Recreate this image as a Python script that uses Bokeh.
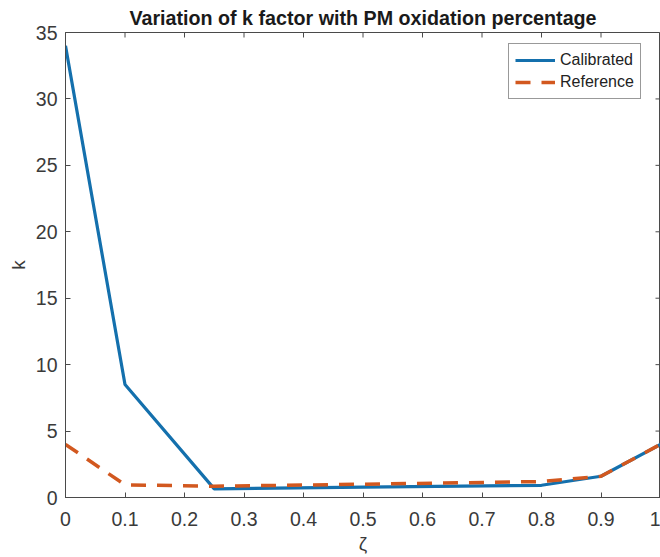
import math
from bokeh.plotting import figure
from bokeh.models import FixedTicker, Legend, LegendItem, Range1d
from bokeh.embed import file_html
from bokeh.resources import INLINE

# ---- data ----
zeta = [0.0, 0.1, 0.25, 0.5, 0.8, 0.9, 1.0]
k_calibrated = [34.0, 8.5, 0.65, 0.78, 0.92, 1.6, 4.0]
k_reference = [4.0, 0.95, 0.85, 1.0, 1.2, 1.6, 4.0]

x_ticks = [0.0, 0.1, 0.2, 0.3, 0.4, 0.5, 0.6, 0.7, 0.8, 0.9, 1.0]
x_tick_labels = ["0", "0.1", "0.2", "0.3", "0.4", "0.5", "0.6", "0.7", "0.8", "0.9", "1"]
y_ticks = [0, 5, 10, 15, 20, 25, 30, 35]

title_text = "Variation of k factor with PM oxidation percentage"
x_label = "\u03b6"
y_label = "k"
series_names = ["Calibrated", "Reference"]

FONT = "Liberation Sans"
AX = "#4a4a4a"
LBL = "#3a3a3a"
BLUE = "#1470ad"
ORANGE = "#d2581f"

p = figure(width=660, height=557, output_backend="svg", toolbar_location=None,
           x_range=Range1d(x_ticks[0], x_ticks[-1]), y_range=Range1d(y_ticks[0], y_ticks[-1]),
           min_border_left=65, min_border_right=0, min_border_top=30, min_border_bottom=60,
           background_fill_color="white", border_fill_color="white")

p.title.text = title_text
p.title.align = "center"
p.title.text_font = FONT
p.title.text_font_size = "19.7px"
p.title.text_font_style = "bold"
p.title.text_color = "#1a1a1a"
p.title.standoff = 8

p.xgrid.visible = False
p.ygrid.visible = False
p.outline_line_color = AX
p.outline_line_width = 1

def style_axis(ax):
    ax.axis_line_color = AX
    ax.major_tick_line_color = AX
    ax.major_tick_in = 5
    ax.major_tick_out = 0
    ax.minor_tick_line_color = None
    ax.major_label_text_font = FONT
    ax.major_label_text_color = LBL
    ax.major_label_text_font_size = "19.5px"

xa = p.xaxis[0]
xa.ticker = FixedTicker(ticks=x_ticks)
xa.major_label_overrides = dict(zip(x_ticks, x_tick_labels))
style_axis(xa)
xa.major_label_standoff = 14
xa.axis_label = x_label
xa.axis_label_text_font = FONT
xa.axis_label_text_font_style = "normal"
xa.axis_label_text_font_size = "19px"
xa.axis_label_text_color = LBL
xa.axis_label_standoff = 4

ya = p.yaxis[0]
ya.ticker = FixedTicker(ticks=y_ticks)
style_axis(ya)
ya.major_label_standoff = 8
ya.axis_label = y_label
ya.axis_label_text_font = FONT
ya.axis_label_text_font_style = "normal"
ya.axis_label_text_font_size = "19px"
ya.axis_label_text_color = LBL
ya.axis_label_standoff = 4

# inward ticks on the top and right edges of the box (MATLAB "box on")
p.scatter(x=x_ticks, y=[y_ticks[-1]] * len(x_ticks), marker="dash", angle=math.pi / 2,
          size=10, line_color=AX, line_width=1)
p.scatter(x=[x_ticks[-1]] * len(y_ticks), y=y_ticks, marker="dash",
          size=10, line_color=AX, line_width=1)

r1 = p.line(zeta, k_calibrated, line_color=BLUE, line_width=3.2)
r2 = p.line(zeta, k_reference, line_color=ORANGE, line_width=3.5, line_dash="15 11")

legend = Legend(items=[LegendItem(label=series_names[0], renderers=[r1]),
                       LegendItem(label=series_names[1], renderers=[r2])],
                location=(443, 398))
legend.label_text_font = FONT
legend.label_text_font_size = "16px"
legend.label_text_color = "#222222"
legend.glyph_width = 40
legend.glyph_height = 20
legend.label_height = 20
legend.label_standoff = 5
legend.spacing = 2
legend.padding = 6
legend.margin = 0
legend.border_line_color = "#333333"
legend.border_line_width = 1
legend.background_fill_color = "white"
legend.background_fill_alpha = 1
p.add_layout(legend)

open("out.html", "w").write(file_html(p, INLINE))
